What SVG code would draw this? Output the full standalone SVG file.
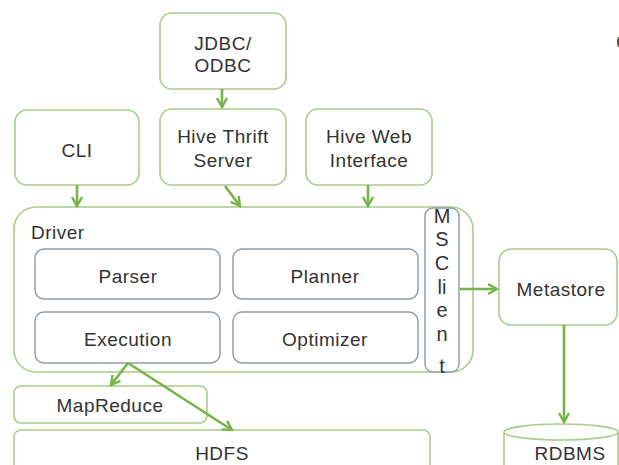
<svg xmlns="http://www.w3.org/2000/svg" width="619" height="465" viewBox="0 0 619 465">
<defs>
<marker id="ah" markerWidth="12" markerHeight="12" refX="10" refY="6" orient="auto" markerUnits="userSpaceOnUse">
<path d="M1,1 L10,6 L1,11" fill="none" stroke="#77b349" stroke-width="2.4" stroke-linejoin="miter"/>
</marker>
</defs>
<style>
.g{fill:#fff;stroke:#a8cc8a;stroke-width:1.6}
.b{fill:#fff;stroke:#8e9aa6;stroke-width:1.4}
.t{font-family:"Liberation Sans",Arial,sans-serif;font-size:19px;letter-spacing:0.5px;fill:#333;text-anchor:middle}
.m{font-size:20px;letter-spacing:0}
.c{stroke:#77b349;stroke-width:2.6;fill:none;marker-end:url(#ah)}
</style>
<rect width="619" height="465" fill="#fff"/>
<ellipse cx="619" cy="42" rx="2" ry="5" fill="#5a5a2a"/>

<g id="jdbc"><rect class="g" x="160" y="13" width="126" height="76" rx="12"/><text class="t" x="223" y="50">JDBC/</text><text class="t" x="223" y="72">ODBC</text></g>
<g id="cli"><rect class="g" x="15" y="110" width="124" height="75" rx="12"/><text class="t" x="77" y="157">CLI</text></g>
<g id="thrift"><rect class="g" x="160" y="109" width="126" height="76" rx="12"/><text class="t" x="223" y="143">Hive Thrift</text><text class="t" x="223" y="167">Server</text></g>
<g id="web"><rect class="g" x="306" y="109" width="126" height="76" rx="12"/><text class="t" x="369" y="143">Hive Web</text><text class="t" x="369" y="167">Interface</text></g>

<g id="driver"><rect class="g" x="14" y="207" width="459" height="165" rx="22"/><text class="t" x="31" y="239" style="text-anchor:start">Driver</text></g>
<g id="parser"><rect class="b" x="35" y="249" width="185" height="50" rx="9"/><text class="t" x="128" y="283">Parser</text></g>
<g id="planner"><rect class="b" x="233" y="249" width="185" height="50" rx="9"/><text class="t" x="325" y="283">Planner</text></g>
<g id="execution"><rect class="b" x="35" y="312" width="185" height="51" rx="9"/><text class="t" x="128" y="346">Execution</text></g>
<g id="optimizer"><rect class="b" x="233" y="312" width="185" height="51" rx="9"/><text class="t" x="325" y="346">Optimizer</text></g>
<g id="msclient"><rect class="b" x="425" y="208" width="34" height="164" rx="8"/>
<text class="t m" x="442" y="223">M</text><text class="t m" x="442" y="246">S</text><text class="t m" x="442" y="270">C</text><text class="t m" x="442" y="294">li</text><text class="t m" x="442" y="317">e</text><text class="t m" x="442" y="341">n</text><text class="t m" x="442" y="373">t</text></g>
<g id="metastore"><rect class="g" x="499" y="249" width="118" height="76" rx="12"/><text class="t" x="561" y="296">Metastore</text></g>
<g id="rdbms"><path class="g" d="M504,432 L504,470 L618,470 L618,432"/><ellipse class="g" cx="561" cy="432" rx="57" ry="8"/><text class="t" x="570" y="460">RDBMS</text></g>
<g id="mapreduce"><rect class="g" x="14" y="386" width="193" height="37" rx="7"/><text class="t" x="110" y="412">MapReduce</text></g>
<g id="hdfs"><rect class="g" x="14" y="430" width="416" height="45" rx="7"/><text class="t" x="222" y="460">HDFS</text></g>

<g id="connectors">
<line class="c" x1="222" y1="89" x2="222" y2="107"/>
<line class="c" x1="77" y1="185" x2="77" y2="206"/>
<line class="c" x1="225" y1="186" x2="240" y2="206"/>
<line class="c" x1="368" y1="185" x2="368" y2="206"/>
<line class="c" x1="460" y1="289" x2="497" y2="289"/>
<line class="c" x1="564" y1="325" x2="564" y2="422"/>
<line class="c" x1="128" y1="363" x2="111" y2="385"/>
<line class="c" x1="128" y1="363" x2="232" y2="430"/>
</g>
</svg>
